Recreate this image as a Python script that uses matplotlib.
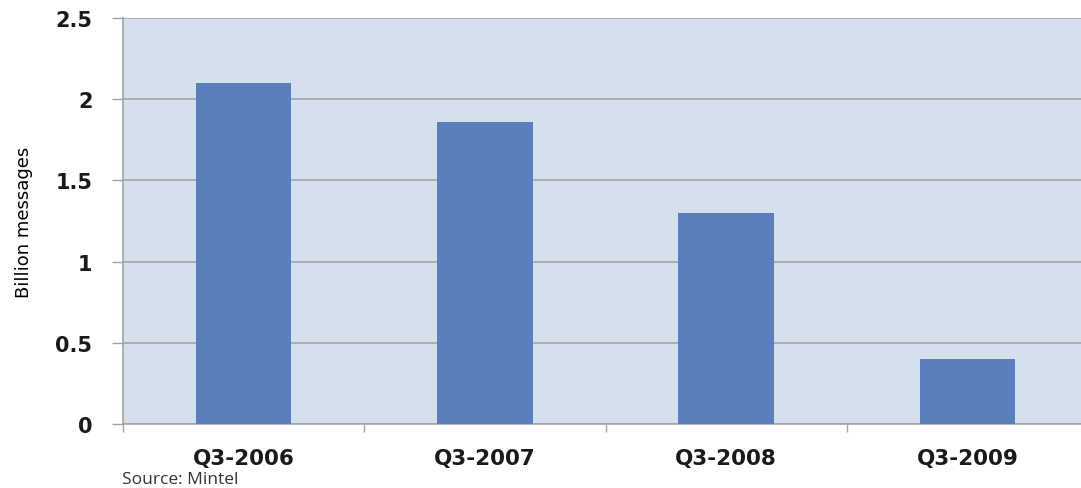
import matplotlib
matplotlib.use("Agg")
import matplotlib.pyplot as plt
import numpy as np

categories = ["Q3-2006", "Q3-2007", "Q3-2008", "Q3-2009"]
values = [2.1, 1.86, 1.3, 0.4]
yticks = [0, 0.5, 1, 1.5, 2, 2.5]
ytick_labels = ["0", "0.5", "1", "1.5", "2", "2.5"]

fig = plt.figure(figsize=(10.81, 4.89), dpi=100)
fig.patch.set_facecolor("white")
ax = fig.add_axes([123/1081, 64/489, 965/1081, 406/489])
ax.set_facecolor("#D6DFEC")

x = np.arange(len(categories))
ax.bar(x, values, width=0.395, color="#5B7FBD", zorder=3)
ax.set_xlim(-0.5, len(categories) - 0.5)
ax.set_ylim(0, 2.5)

ax.set_yticks(yticks)
ax.set_yticklabels(ytick_labels, fontsize=15, fontweight="bold", family="DejaVu Sans", color="#1a1a1a")
ax.yaxis.grid(True, color="#A0A5AC", linewidth=1.2, zorder=1)
ax.tick_params(axis="y", length=8, width=1, color="#A0A5AC", pad=14)

ax.set_xticks(x)
ax.set_xticklabels(categories, fontsize=15.5, fontweight="bold", family="DejaVu Sans", color="#1a1a1a")
ax.tick_params(axis="x", length=0, pad=17)
ax.set_xticks(np.arange(len(categories) + 1) - 0.5, minor=True)
ax.tick_params(axis="x", which="minor", length=6, width=1, color="#A0A5AC")

for s in ["top", "right"]:
    ax.spines[s].set_visible(False)
ax.spines["left"].set_color("#A0A5AC")
ax.spines["bottom"].set_color("#A0A5AC")
ax.spines["left"].set_linewidth(1.2)
ax.spines["bottom"].set_linewidth(1.2)

ax.set_ylabel("Billion messages", fontsize=13,
              family=["Liberation Sans Narrow", "DejaVu Sans"], labelpad=16)

fig.text(122/1081, 1 - 480/489, "Source: Mintel", fontsize=12.5,
         family=["Open Sans", "DejaVu Sans"], color="#333333", va="center", ha="left")

fig.savefig("out.png", dpi=100)
